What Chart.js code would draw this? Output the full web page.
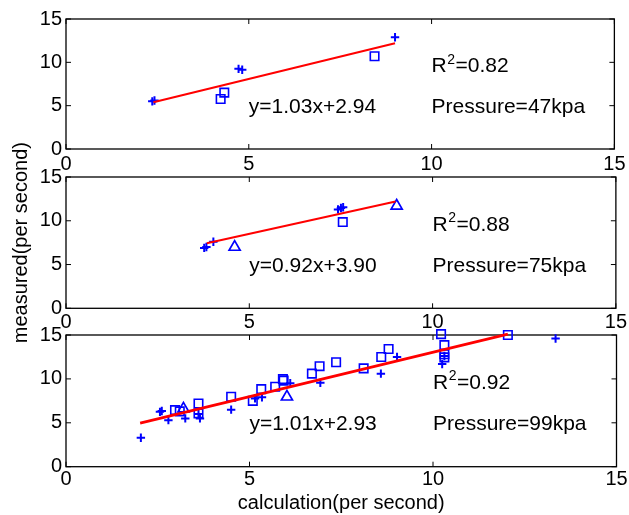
<!DOCTYPE html>
<html><head><meta charset="utf-8">
<script src="https://cdn.jsdelivr.net/npm/chart.js@4/dist/chart.umd.min.js"></script>
<style>
html,body{margin:0;padding:0;background:#fff;}
#wrap{position:relative;width:629px;height:515px;overflow:hidden;}
#wrap canvas{position:absolute;left:0;top:0;}
</style></head><body>
<div id="wrap">
<canvas id="c1" width="629" height="515"></canvas>
<canvas id="c2" width="629" height="515"></canvas>
<canvas id="c3" width="629" height="515"></canvas>
</div>
<script>
// ---- tick labels ----
const xTicks = [0, 5, 10, 15];
const yTicks = [0, 5, 10, 15];

// ---- Pressure = 47 kpa ----
const p47PlusX = [2.36, 2.42, 4.72, 4.82, 9.0];
const p47PlusY = [5.5, 5.6, 9.25, 9.15, 12.9];
const p47SqX = [4.23, 4.33, 8.44];
const p47SqY = [5.77, 6.5, 10.7];
const p47TriX = [];
const p47TriY = [];
const p47FitX = [2.39, 9.0];
const p47FitY = [5.40, 12.21];

// ---- Pressure = 75 kpa ----
const p75PlusX = [3.77, 3.83, 4.02, 7.42, 7.5, 7.56];
const p75PlusY = [6.9, 7.0, 7.6, 11.3, 11.45, 11.55];
const p75SqX = [7.55];
const p75SqY = [9.85];
const p75TriX = [4.6, 9.02];
const p75TriY = [7.0, 11.7];
const p75FitX = [3.84, 8.99];
const p75FitY = [7.43, 12.2];

// ---- Pressure = 99 kpa ----
const p99PlusX = [2.04, 2.56, 2.61, 2.79, 3.25, 3.65, 3.61, 4.5, 5.15, 5.34, 6.11, 6.93, 8.58, 9.02, 10.25, 10.31, 13.34];
const p99PlusY = [3.3, 6.25, 6.35, 5.3, 5.5, 5.5, 6.0, 6.5, 7.78, 7.9, 9.5, 9.55, 10.6, 12.5, 11.7, 12.6, 14.6];
const p99SqX = [2.97, 3.1, 3.61, 3.61, 4.5, 5.09, 5.32, 5.7, 5.91, 5.93, 6.7, 6.91, 7.36, 8.11, 8.59, 8.79, 10.22, 10.31, 10.31, 10.31, 12.04];
const p99SqY = [6.45, 6.3, 7.2, 6.07, 7.96, 7.5, 8.84, 9.1, 9.98, 9.8, 10.6, 11.45, 11.9, 11.2, 12.5, 13.4, 15.1, 13.85, 12.8, 12.45, 15.0];
const p99TriX = [3.2, 6.02];
const p99TriY = [6.6, 7.96];
const p99FitX = [2.02, 12.04];
const p99FitY = [4.97, 15.09];

// ---- annotation texts ----
const eqTexts = ['y=1.03x+2.94', 'y=0.92x+3.90', 'y=1.01x+2.93'];
const r2Texts = ['0.82', '0.88', '0.92'];
const pressureTexts = ['Pressure=47kpa', 'Pressure=75kpa', 'Pressure=99kpa'];

function pts(xs, ys) { return xs.map((x, i) => ({x: x, y: ys[i]})); }

const FONT = '"Liberation Sans", Arial, Helvetica, sans-serif';
const BLUE = '#0000ff';

const boxPlugin = {
  id: 'box',
  beforeDatasetsDraw(chart) {
    const {ctx, chartArea: a, scales} = chart;
    const x = scales.x, y = scales.y;
    ctx.save();
    ctx.strokeStyle = '#000';
    ctx.lineWidth = 1.3;
    ctx.strokeRect(a.left, a.top, a.right - a.left, a.bottom - a.top);
    ctx.lineWidth = 1;
    ctx.beginPath();
    x.ticks.forEach(t => {
      const px = x.getPixelForValue(t.value);
      ctx.moveTo(px, a.bottom); ctx.lineTo(px, a.bottom - 5);
      ctx.moveTo(px, a.top); ctx.lineTo(px, a.top + 5);
    });
    y.ticks.forEach(t => {
      const py = y.getPixelForValue(t.value);
      ctx.moveTo(a.left, py); ctx.lineTo(a.left + 5, py);
      ctx.moveTo(a.right, py); ctx.lineTo(a.right - 5, py);
    });
    ctx.stroke();
    ctx.restore();
  }
};

const notePlugin = {
  id: 'notes',
  afterDatasetsDraw(chart, args, opts) {
    const {ctx, scales} = chart;
    const x = scales.x, y = scales.y;
    ctx.save();
    ctx.fillStyle = '#000';
    ctx.textBaseline = 'alphabetic';
    ctx.textAlign = 'left';
    const big = '21px ' + FONT, sup = '14px ' + FONT;
    ctx.font = big;
    ctx.fillText(opts.eq, x.getPixelForValue(5), y.getPixelForValue(4.15));
    ctx.fillText(opts.pressure, x.getPixelForValue(10), y.getPixelForValue(4.15));
    let px = x.getPixelForValue(10), py = y.getPixelForValue(8.85);
    ctx.fillText('R', px, py);
    px += ctx.measureText('R').width;
    ctx.font = sup;
    ctx.fillText('2', px + 0.5, py - 8.5);
    px += ctx.measureText('2').width + 1;
    ctx.font = big;
    ctx.fillText('=' + opts.r2, px, py);
    ctx.restore();
  }
};

function makeChart(id, c) {
  return new Chart(document.getElementById(id), {
    type: 'scatter',
    data: {
      datasets: [
        {label: 'fit', data: c.fit, showLine: true, borderColor: '#ff0000', borderWidth: c.lw,
         pointRadius: 0, fill: false, clip: false},
        {label: 'plus', data: c.plus, pointStyle: 'cross', pointRadius: 4.2, borderColor: BLUE,
         backgroundColor: BLUE, pointBorderWidth: 2, borderWidth: 2, clip: false},
        {label: 'square', data: c.sq, pointStyle: 'rect', pointRadius: 6, borderColor: BLUE,
         backgroundColor: 'rgba(0,0,0,0)', pointBorderWidth: 1.6, borderWidth: 1.6, clip: false},
        {label: 'tri', data: c.tri, pointStyle: 'triangle', pointRadius: 6.4, borderColor: BLUE,
         backgroundColor: 'rgba(0,0,0,0)', pointBorderWidth: 1.7, borderWidth: 1.7, clip: false}
      ]
    },
    options: {
      responsive: false, animation: false, events: [],
      layout: {padding: {left: 0, right: 12.5, top: c.top, bottom: c.bottomPad}},
      plugins: {legend: {display: false}, tooltip: {enabled: false}, notes: c.notes},
      scales: {
        x: {
          type: 'linear', min: 0, max: 15,
          afterBuildTicks: s => { s.ticks = xTicks.map(v => ({value: v})); },
          afterFit: s => { s.height = c.xh; },
          ticks: {color: '#000', font: {family: FONT, size: 20}, padding: c.xpad, maxRotation: 0, autoSkip: false},
          grid: {display: false, drawTicks: false}, border: {display: false},
          title: {display: !!c.xTitle, text: c.xTitle || '', color: '#000', font: {family: FONT, size: 20}, padding: 0}
        },
        y: {
          type: 'linear', min: 0, max: 15,
          afterBuildTicks: s => { s.ticks = yTicks.map(v => ({value: v})); },
          afterFit: s => { s.width = 66; },
          ticks: {color: '#000', font: {family: FONT, size: 20}, padding: 4, autoSkip: false},
          grid: {display: false, drawTicks: false}, border: {display: false},
          title: {display: !!c.yTitle, text: c.yTitle || '', color: '#000', font: {family: FONT, size: 20}, padding: {top: 9, bottom: 0}}
        }
      }
    },
    plugins: [boxPlugin, notePlugin]
  });
}

makeChart('c1', {
  fit: pts(p47FitX, p47FitY), plus: pts(p47PlusX, p47PlusY), sq: pts(p47SqX, p47SqY), tri: pts(p47TriX, p47TriY),
  lw: 2, top: 19, bottomPad: 336, xh: 30, xpad: 3.5,
  notes: {eq: eqTexts[0], r2: r2Texts[0], pressure: pressureTexts[0]}
});
makeChart('c2', {
  fit: pts(p75FitX, p75FitY), plus: pts(p75PlusX, p75PlusY), sq: pts(p75SqX, p75SqY), tri: pts(p75TriX, p75TriY),
  lw: 2, top: 177, bottomPad: 176.7, xh: 30, xpad: 2, yTitle: 'measured(per second)',
  notes: {eq: eqTexts[1], r2: r2Texts[1], pressure: pressureTexts[1]}
});
makeChart('c3', {
  fit: pts(p99FitX, p99FitY), plus: pts(p99PlusX, p99PlusY), sq: pts(p99SqX, p99SqY), tri: pts(p99TriX, p99TriY),
  lw: 2.8, top: 335, bottomPad: 0, xh: 48.3, xpad: 0.5, xTitle: 'calculation(per second)',
  notes: {eq: eqTexts[2], r2: r2Texts[2], pressure: pressureTexts[2]}
});
</script>
</body></html>
